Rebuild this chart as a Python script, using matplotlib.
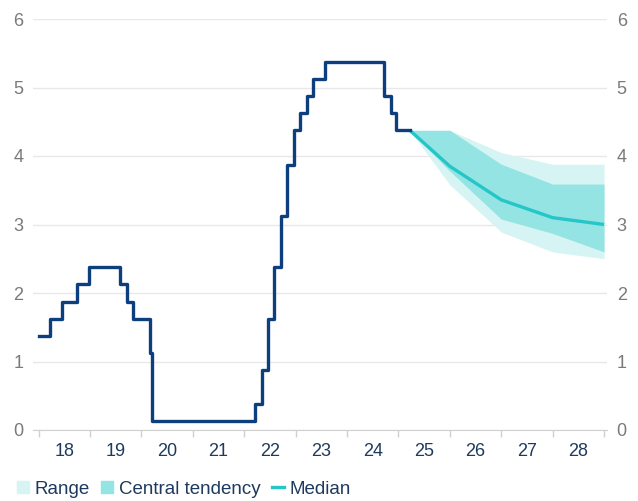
import numpy as np
import matplotlib.pyplot as plt
from matplotlib.patches import Patch
from matplotlib.lines import Line2D

plt.rcParams['font.family'] = ['Liberation Sans', 'DejaVu Sans']

# federal funds rate (midpoint of target range), decimal years
hist_x = [2018.0, 2018.22, 2018.45, 2018.74, 2018.97, 2019.58, 2019.71, 2019.83,
          2020.17, 2020.20, 2022.21, 2022.34, 2022.46, 2022.57, 2022.72, 2022.84,
          2022.96, 2023.09, 2023.22, 2023.34, 2023.57, 2024.71, 2024.85, 2024.96,
          2025.22]
hist_y = [1.375, 1.625, 1.875, 2.125, 2.375, 2.125, 1.875, 1.625,
          1.125, 0.125, 0.375, 0.875, 1.625, 2.375, 3.125, 3.875,
          4.375, 4.625, 4.875, 5.125, 5.375, 4.875, 4.625, 4.375,
          4.375]

# projections
proj_x = [2025.22, 2026.0, 2027.0, 2028.0, 2029.0]
median = [4.375, 3.85, 3.36, 3.10, 3.0]
ct_hi = [4.375, 4.375, 3.88, 3.59, 3.59]
ct_lo = [4.375, 3.78, 3.08, 2.87, 2.60]
range_hi = [4.375, 4.375, 4.05, 3.88, 3.88]
range_lo = [4.375, 3.58, 2.89, 2.60, 2.50]

years = np.arange(2018, 2030)
year_labels = ['18', '19', '20', '21', '22', '23', '24', '25', '26', '27', '28']

navy = '#0d3f7e'
teal = '#25c6c8'
ct_col = '#93e4e3'
range_col = '#d5f4f3'
grey = '#7a7a7a'
text_navy = '#1e3a5f'

fig = plt.figure(figsize=(6.38, 5.01), dpi=100)
ax = fig.add_axes([33/638, 71/501, 574/638, 411/501])

ax.fill_between(proj_x, range_lo, range_hi, color=range_col, lw=0)
ax.fill_between(proj_x, ct_lo, ct_hi, color=ct_col, lw=0)
ax.plot(proj_x, median, color=teal, lw=2.4, solid_capstyle='butt')
ax.plot(hist_x, hist_y, drawstyle='steps-post', color=navy, lw=2.4)

ax.set_xlim(2018 - 5.7/51.4, 2029 + 3/51.4)
ax.set_ylim(0, 6)

ax.set_xticks(years)
ax.set_xticklabels([])
ax.set_xticks(years[:-1] + 0.5, minor=True)
ax.set_xticklabels(year_labels, minor=True)
ax.tick_params(axis='x', which='major', length=5, color='#d0d0d0', width=1)
ax.tick_params(axis='x', which='minor', length=0, pad=9, labelsize=13, labelcolor=text_navy)

ax.set_yticks(range(0, 7))
ax.tick_params(axis='y', length=0, labelsize=13, labelcolor=grey, pad=7,
               labelleft=True, labelright=True)
ax.grid(axis='y', color='#e8e8e8', lw=1)
ax.set_axisbelow(True)

for s in ['top', 'left', 'right']:
    ax.spines[s].set_visible(False)
ax.spines['bottom'].set_color('#d0d0d0')

handles = [Patch(color=range_col, label='Range'),
           Patch(color=ct_col, label='Central tendency'),
           Line2D([], [], color=teal, lw=2.4, label='Median')]
leg = fig.legend(handles=handles, loc='lower left', bbox_to_anchor=(0.0, -0.027),
                 ncol=3, frameon=False, fontsize=13.5, handlelength=0.65,
                 handleheight=0.65, handletextpad=0.3, columnspacing=0.6)
for t in leg.get_texts():
    t.set_color(text_navy)

plt.savefig('out.png', dpi=100)
